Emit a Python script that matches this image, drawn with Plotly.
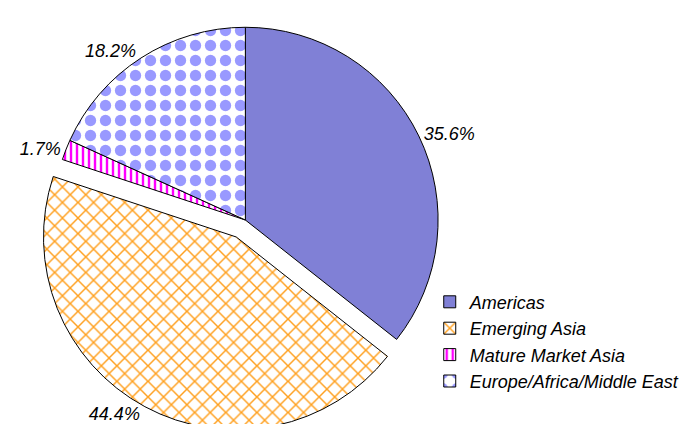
import plotly.graph_objects as go

categories = ["Americas", "Emerging Asia", "Mature Market Asia", "Europe/Africa/Middle East"]
shares = [35.6, 44.4, 1.7, 18.2]
pulls = [0, 0.1, 0, 0]

fill_colors = ["#8080d6", "#ffffff", "#ffffff", "#ffffff"]
pattern_shapes = ["", "x", "|", "."]
pattern_fg = ["#8080d6", "#ffa01e", "#ff00ff", "#9999ff"]
pattern_size = [8, 11, 6, 15]
pattern_solidity = [0.3, 0.25, 0.4, 0.45]

fig = go.Figure(
    go.Pie(
        labels=categories,
        values=shares,
        sort=False,
        direction="clockwise",
        rotation=0,
        pull=pulls,
        textposition="outside",
        texttemplate="%{value:.1f}%",
        textfont=dict(size=18, color="black", family="Liberation Sans, Arial, sans-serif", style="italic"),
        marker=dict(
            colors=fill_colors,
            line=dict(color="black", width=1),
            pattern=dict(
                shape=pattern_shapes,
                fgcolor=pattern_fg,
                bgcolor=fill_colors,
                size=pattern_size,
                solidity=pattern_solidity,
                fillmode="replace",
            ),
        ),
        domain=dict(x=[0, 0.69], y=[0, 1]),
        hoverinfo="label+percent",
    )
)

fig.update_layout(
    width=688,
    height=424,
    margin=dict(l=0, r=0, t=0, b=0, autoexpand=False),
    paper_bgcolor="white",
    plot_bgcolor="white",
    font=dict(family="Liberation Sans, Arial, sans-serif", size=18, color="black", style="italic"),
    legend=dict(
        x=0.613,
        y=0.35,
        xanchor="left",
        yanchor="top",
        font=dict(size=18, style="italic"),
        bgcolor="rgba(0,0,0,0)",
    ),
    showlegend=True,
)

fig.write_html("out.html")
